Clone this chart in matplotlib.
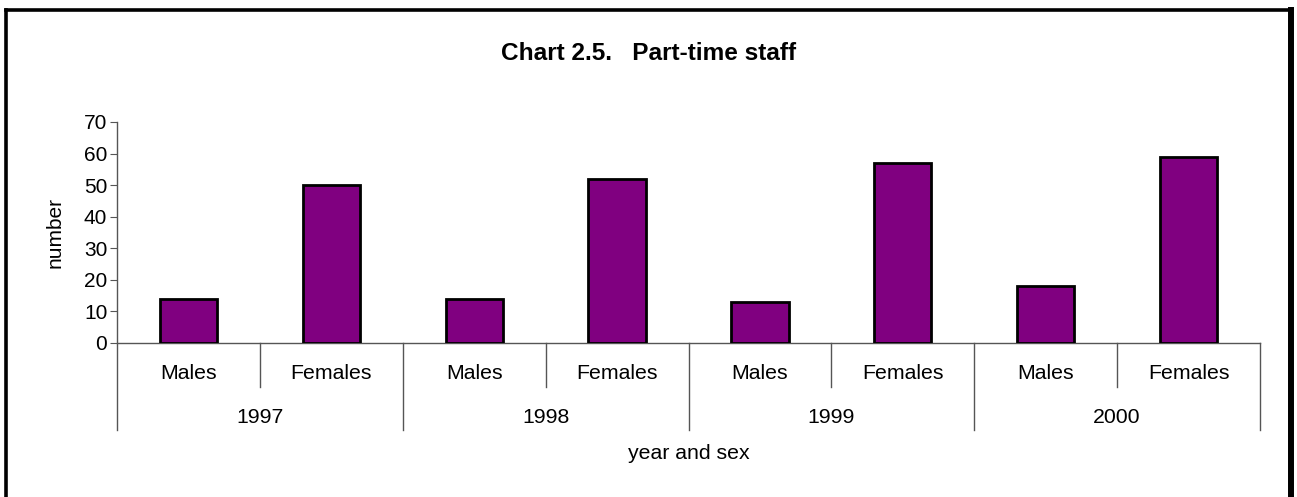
import numpy as np
import matplotlib.pyplot as plt
from matplotlib.lines import Line2D

plt.rcParams['font.family'] = ['Liberation Sans', 'DejaVu Sans']

years = ['1997', '1998', '1999', '2000']
sexes = ['Males', 'Females']
values = [14, 50, 14, 52, 13, 57, 18, 59]

W, H = 1297, 497
fig = plt.figure(figsize=(W / 100, H / 100), dpi=100)
ax = fig.add_axes([117 / W, 1 - 343 / H, (1260 - 117) / W, (343 - 122) / H])

x = np.arange(len(values))
ax.bar(x, values, width=0.4, color='#800080', edgecolor='black', linewidth=2, zorder=3)

ax.set_xlim(-0.5, len(values) - 0.5)
ax.set_ylim(0, 70)
ax.set_yticks(range(0, 80, 10))
ax.tick_params(axis='y', labelsize=15, length=5, color='#555555', direction='out', pad=2)
ax.set_xticks([])
for s in ['top', 'right', 'bottom', 'left']:
    ax.spines[s].set_visible(False)
ax.set_ylabel('number', fontsize=15, labelpad=14)

# category axis drawn by hand
tr = ax.get_xaxis_transform()
gray = '#555555'
ax.plot([-0.5, -0.5], [1, -0.394], transform=tr, color=gray, lw=1, clip_on=False)
ax.plot([-0.5, len(values) - 0.5], [0, 0], transform=tr, color=gray, lw=1, clip_on=False)
for i in range(1, len(values) + 1):
    bottom = -0.394 if i % 2 == 0 else -0.199
    ax.plot([i - 0.5, i - 0.5], [0, bottom], transform=tr, color=gray, lw=1, clip_on=False)
for i, v in enumerate(values):
    ax.text(i, -0.136, sexes[i % 2], transform=tr, ha='center', va='center', fontsize=15.3)
for j, yr in enumerate(years):
    ax.text(2 * j + 0.5, -0.335, yr, transform=tr, ha='center', va='center', fontsize=15.3)
ax.text(0.5, -0.498, 'year and sex', transform=ax.transAxes, ha='center', va='center', fontsize=15.3)

fig.text(0.5, 1 - 53 / H, 'Chart 2.5.   Part-time staff', ha='center', va='center',
         fontsize=17.6, fontweight='bold')

# outer frame (open at the bottom)
fx = lambda px: px / W
fy = lambda py: 1 - py / H
fig.lines.append(Line2D([fx(5.5), fx(5.5)], [fy(9.5), -0.05], transform=fig.transFigure,
                        color='black', lw=2.6, solid_capstyle='projecting'))
fig.lines.append(Line2D([fx(5.5), fx(1291)], [fy(9.5), fy(9.5)], transform=fig.transFigure,
                        color='black', lw=2.6, solid_capstyle='projecting'))
fig.lines.append(Line2D([fx(1291), fx(1291)], [fy(9.5), -0.05], transform=fig.transFigure,
                        color='black', lw=4.3, solid_capstyle='projecting'))

fig.savefig('out.png', dpi=100)
